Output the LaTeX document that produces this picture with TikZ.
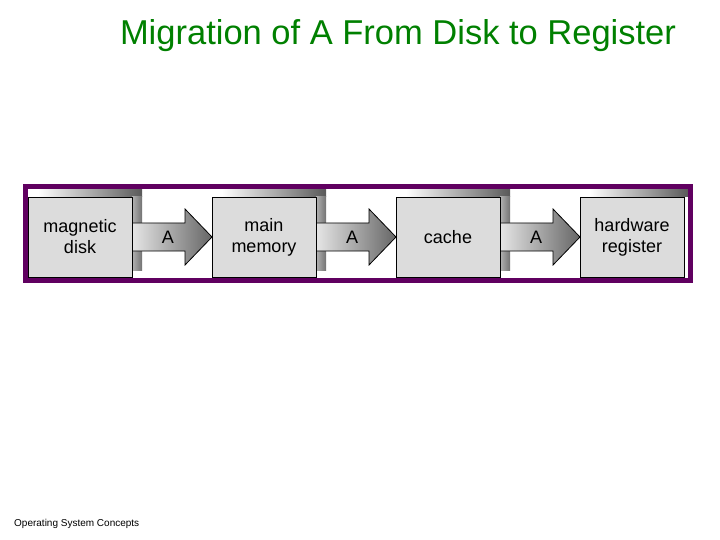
\documentclass[tikz,border=0pt]{standalone}
\usepackage{fontspec}
\setmainfont{Liberation Sans}
\definecolor{ttl}{RGB}{0,128,0}
\definecolor{frm}{RGB}{96,0,96}
\definecolor{boxg}{RGB}{220,220,220}
\begin{document}
\begin{tikzpicture}[x=1pt,y=-1pt,
  box/.style={draw=black,line width=0.8pt,fill=boxg,minimum width=104pt,minimum height=80pt,
    inner sep=0pt,align=center,font=\fontsize{18}{21}\selectfont},
  lbl/.style={font=\fontsize{18}{21}\selectfont}]
\useasboundingbox (0,0) rectangle (720,540);
\node[text=ttl,font=\fontsize{34.5}{38}\selectfont] (title) at (398,36) {Migration of A From Disk to Register};
\node[anchor=south west,inner sep=0pt,font=\fontsize{10}{11}\selectfont] (foot) at (14,529) {Operating System Concepts};
\foreach \i/\t in {0/{magnetic\\disk},1/{main\\memory},2/{cache},3/{hardware\\register}}{
  \pgfmathsetmacro{\xa}{28+184*\i}
  \pgfmathsetmacro{\xs}{ifthenelse(\i==3,688,\xa+114)}
  % shadow
  \shade[left color=white,right color=gray!70!black] (\xa+10,190) rectangle (\xs,197);
  \ifnum\i<3
  \shade[left color=gray!60,right color=gray!90!black] (\xa+104,197) rectangle (\xa+114,270);
  \shade[left color=gray!20,right color=gray!80!black]
    (\xa+104,223) -- (\xa+157,223) -- (\xa+157,209) -- (\xa+184,237) -- (\xa+157,265) -- (\xa+157,251) -- (\xa+104,251) -- cycle;
  \draw[line width=0.8pt] (\xa+104,223) -- (\xa+157,223) -- (\xa+157,209) -- (\xa+184,237) -- (\xa+157,265) -- (\xa+157,251) -- (\xa+104,251);
  \node[lbl] (a\i) at (\xa+140,237) {A};
  \fi
  \node[box] (b\i) at (\xa+52,237) {\t};
}
\draw[frm,line width=5pt] (25.5,186.5) rectangle (690.5,280.5);
\end{tikzpicture}
\end{document}
